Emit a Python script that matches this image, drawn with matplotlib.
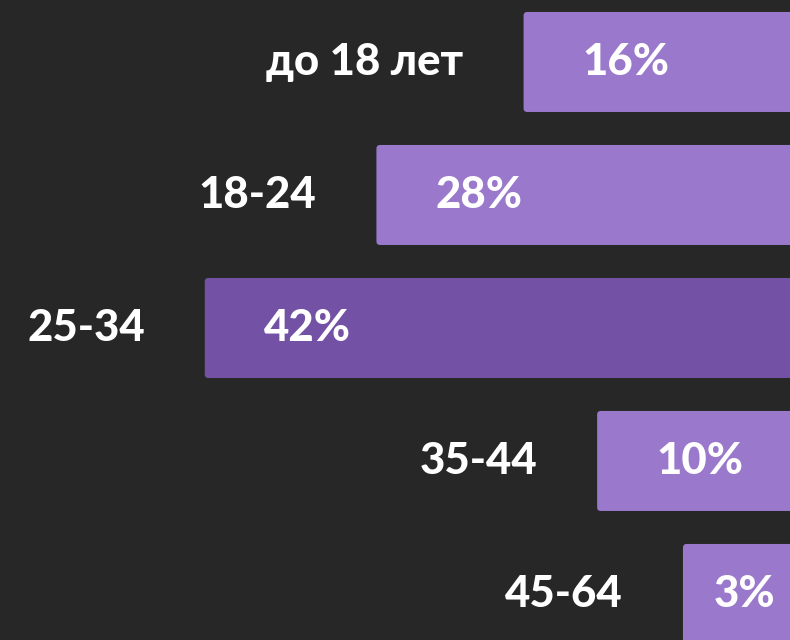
import matplotlib
matplotlib.use("Agg")
import matplotlib.pyplot as plt
from matplotlib.patches import FancyBboxPatch
from matplotlib.transforms import offset_copy

categories = ["до 18 лет", "18-24", "25-34", "35-44", "45-64"]
values = [16, 28, 42, 10, 3]
value_labels = ["16%", "28%", "42%", "10%", "3%"]
highlight = "25-34"

BG = "#272727"
LIGHT = "#9a78cb"
DARK = "#7352a6"

fig = plt.figure(figsize=(7.9, 6.4), dpi=100, facecolor=BG)
ax = fig.add_axes([0, 0, 1, 1], facecolor=BG)
ax.set_xlim(58.7, -5.73)
ax.set_ylim(4.346, -0.466)
ax.axis("off")

ypos = list(range(len(categories)))
h = 0.752
bars = ax.barh(ypos, [v + 5.73 + 3 for v in values], left=-5.73 - 3, height=h)
for b, cat in zip(bars, categories):
    b.set_visible(False)
    x0, y0, w, hh = b.get_x(), b.get_y(), b.get_width(), b.get_height()
    col = DARK if cat == highlight else LIGHT
    p = FancyBboxPatch((x0, y0), w, hh, boxstyle="round,pad=0,rounding_size=0.3",
                       mutation_aspect=0.09, facecolor=col, edgecolor="none")
    ax.add_patch(p)

font = dict(family=["Lato", "DejaVu Sans"], weight="black", color="white", fontsize=31.5)
for y, cat, v, lab in zip(ypos, categories, values, value_labels):
    t1 = offset_copy(ax.transData, fig=fig, x=-60, y=0, units="dots")
    ax.text(v, y, cat, ha="right", va="center", transform=t1, **font)
    width_px = (v + 5.73) * 12.26
    off = 59 if width_px > 150 else 31
    t2 = offset_copy(ax.transData, fig=fig, x=off, y=0, units="dots")
    ax.text(v, y, lab, ha="left", va="center", transform=t2, **font)

fig.savefig("out.png", dpi=100, facecolor=BG)
